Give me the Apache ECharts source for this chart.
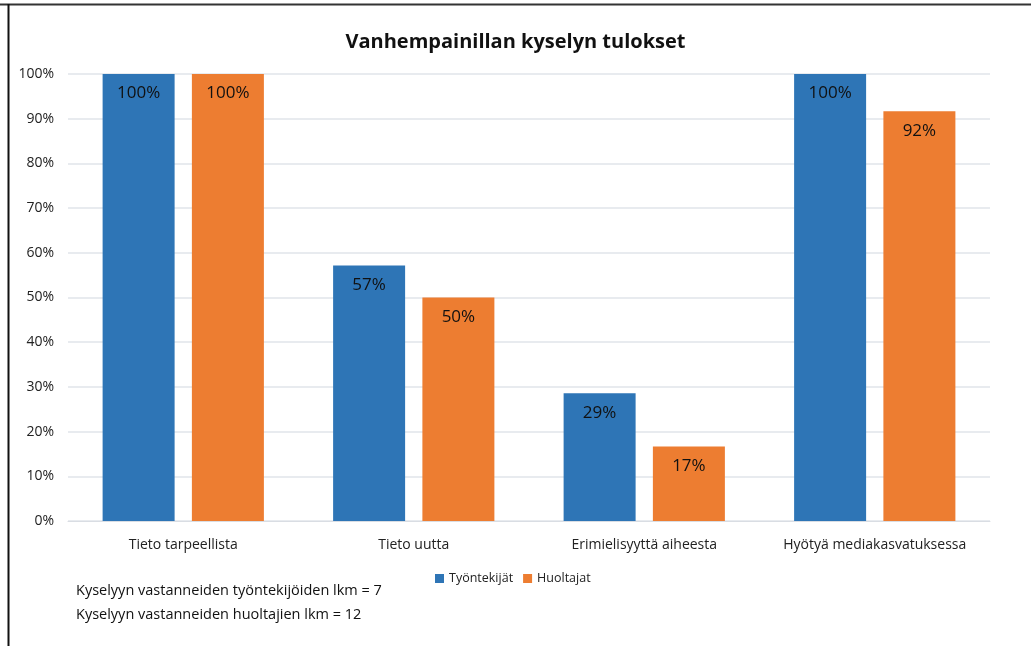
<!DOCTYPE html>
<html>
<head>
<meta charset="utf-8">
<script src="https://cdn.jsdelivr.net/npm/echarts@6/dist/echarts.min.js"></script>
<style>
  html, body { margin: 0; padding: 0; background: #fff; }
  #main { width: 1031px; height: 646px; }
</style>
</head>
<body>
<div id="main"></div>
<script>
var categories = ['Tieto tarpeellista', 'Tieto uutta', 'Erimielisyyttä aiheesta', 'Hyötyä mediakasvatuksessa'];
var tyontekijat = [100, 57.14, 28.57, 100];
var huoltajat = [100, 50, 16.67, 91.67];
var yTicks = [0, 10, 20, 30, 40, 50, 60, 70, 80, 90, 100];
var notes = [
    'Kyselyyn vastanneiden työntekijöiden lkm = 7',
    'Kyselyyn vastanneiden huoltajien lkm = 12'
];

var fontFam = 'Open Sans, Liberation Sans, sans-serif';

var labelOpt = {
    show: true,
    position: 'insideTop',
    distance: 11,
    color: '#111',
    fontSize: 17,
    fontFamily: fontFam,
    formatter: function (p) { return Math.round(p.value) + '%'; }
};

var option = {
    backgroundColor: '#fff',
    animation: false,
    title: {
        text: 'Vanhempainillan kyselyn tulokset',
        left: 'center',
        top: 27,
        textStyle: {
            fontSize: 20,
            fontWeight: 'bold',
            color: '#111',
            fontFamily: fontFam
        }
    },
    grid: {
        left: 68,
        right: 41,
        top: 74,
        bottom: 125
    },
    legend: {
        data: ['Työntekijät', 'Huoltajat'],
        left: 430,
        top: 567,
        itemWidth: 9,
        itemHeight: 9,
        itemGap: 10,
        icon: 'rect',
        textStyle: { fontSize: 12.5, color: '#222', fontFamily: fontFam }
    },
    xAxis: {
        type: 'category',
        data: categories,
        axisLine: { lineStyle: { color: '#d9dde3' } },
        axisTick: { show: false },
        axisLabel: { interval: 0, fontSize: 14, color: '#222', margin: 17, fontFamily: fontFam }
    },
    yAxis: {
        type: 'value',
        min: yTicks[0],
        max: yTicks[yTicks.length - 1],
        interval: 10,
        axisLine: { show: false },
        axisTick: { show: false },
        splitLine: { lineStyle: { color: '#e1e4ea', width: 1.5 } },
        axisLabel: {
            fontSize: 14,
            color: '#222',
            margin: 14,
            fontFamily: fontFam,
            formatter: '{value}%'
        }
    },
    series: [
        {
            name: 'Työntekijät',
            type: 'bar',
            data: tyontekijat,
            barWidth: 72,
            barGap: '24%',
            itemStyle: { color: '#2E75B6' },
            label: labelOpt
        },
        {
            name: 'Huoltajat',
            type: 'bar',
            data: huoltajat,
            barWidth: 72,
            itemStyle: { color: '#ED7D31' },
            label: labelOpt
        }
    ],
    graphic: [
        { type: 'line', shape: { x1: 0, y1: 4.5, x2: 1031, y2: 4.5 }, style: { stroke: '#333', lineWidth: 2 } },
        { type: 'line', shape: { x1: 8.5, y1: 4, x2: 8.5, y2: 646 }, style: { stroke: '#111', lineWidth: 2 } },
        { type: 'text', left: 76, top: 583, style: { text: notes[0], fontSize: 14.5, fill: '#111', fontFamily: fontFam } },
        { type: 'text', left: 76, top: 607, style: { text: notes[1], fontSize: 14.5, fill: '#111', fontFamily: fontFam } }
    ]
};

var myChart = echarts.init(document.getElementById('main'));
myChart.setOption(option);
</script>
</body>
</html>
